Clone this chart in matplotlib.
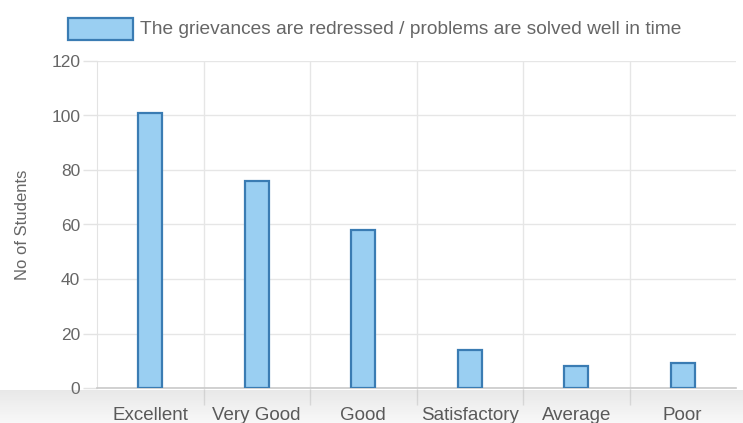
import numpy as np
import matplotlib
matplotlib.use("Agg")
import matplotlib.pyplot as plt
from matplotlib.patches import Rectangle

categories = ["Excellent", "Very Good", "Good", "Satisfactory", "Average", "Poor"]
values = [101, 76, 58, 14, 8, 9]
series_label = "The grievances are redressed / problems are solved well in time"
y_ticks = [0, 20, 40, 60, 80, 100, 120]

W, H = 743, 423
fig = plt.figure(figsize=(W / 100, H / 100), dpi=100)
fig.patch.set_facecolor("white")
plt.rcParams["font.family"] = ["Liberation Sans", "DejaVu Sans"]

L, R, B, T = 97, 736, 388, 61
ax = fig.add_axes([L / W, (H - B) / H, (R - L) / W, (B - T) / H])
ax.set_facecolor("white")

x = np.arange(len(categories))
ax.bar(x, values, width=0.225, color="#9ACFF2", edgecolor="#3A7CB3", linewidth=1.6, zorder=3)

ax.set_xlim(-0.5, len(categories) - 0.5)
ax.set_ylim(0, 120)
ax.set_yticks(y_ticks)
ax.set_yticklabels([str(v) for v in y_ticks])
ax.tick_params(axis="y", length=10, width=1, color="#e3e3e3", labelcolor="#666666", labelsize=12.5, pad=2)

# category boundary grid lines (minor ticks)
ax.set_xticks(x)
ax.set_xticklabels(categories)
ax.set_xticks(np.arange(0.5, len(categories) - 0.5, 1), minor=True)
ax.tick_params(axis="x", which="major", length=0, labelcolor="#555555", labelsize=13.5, pad=14)
ax.tick_params(axis="x", which="minor", length=12, width=1, color="#e3e3e3")
ax.grid(axis="y", color="#e6e6e6", linewidth=1, zorder=0)
ax.grid(axis="x", which="minor", color="#e6e6e6", linewidth=1, zorder=0)

for s in ["top", "right"]:
    ax.spines[s].set_visible(False)
ax.spines["left"].set_color("#e3e3e3")
ax.spines["bottom"].set_color("#c9c9c9")
ax.spines["bottom"].set_linewidth(1.2)

ax.set_ylabel("No of Students", color="#666666", fontsize=12)
ax.yaxis.set_label_coords(-(L - 30) / (R - L), 0.5)

# legend
fig.patches.append(Rectangle((68 / W, (H - 40) / H), 65 / W, 22 / H, transform=fig.transFigure,
                             facecolor="#9ACFF2", edgecolor="#3A7CB3", linewidth=1.6))
fig.text(140 / W, (H - 29) / H, series_label, color="#666666", fontsize=13.8, va="center", ha="left")

# bottom shadow overlay
ov = fig.add_axes([0, 0, 1, 33 / H], zorder=10)
ov.axis("off")
grad = np.zeros((50, 2, 4))
grad[..., :3] = 0.55
alpha = np.linspace(0.2, 0.06, 50)
grad[..., 3] = alpha[:, None]
ov.imshow(grad, aspect="auto", extent=[0, 1, 0, 1], origin="upper")
ov.set_xlim(0, 1)
ov.set_ylim(0, 1)

fig.savefig("out.png", dpi=100)
